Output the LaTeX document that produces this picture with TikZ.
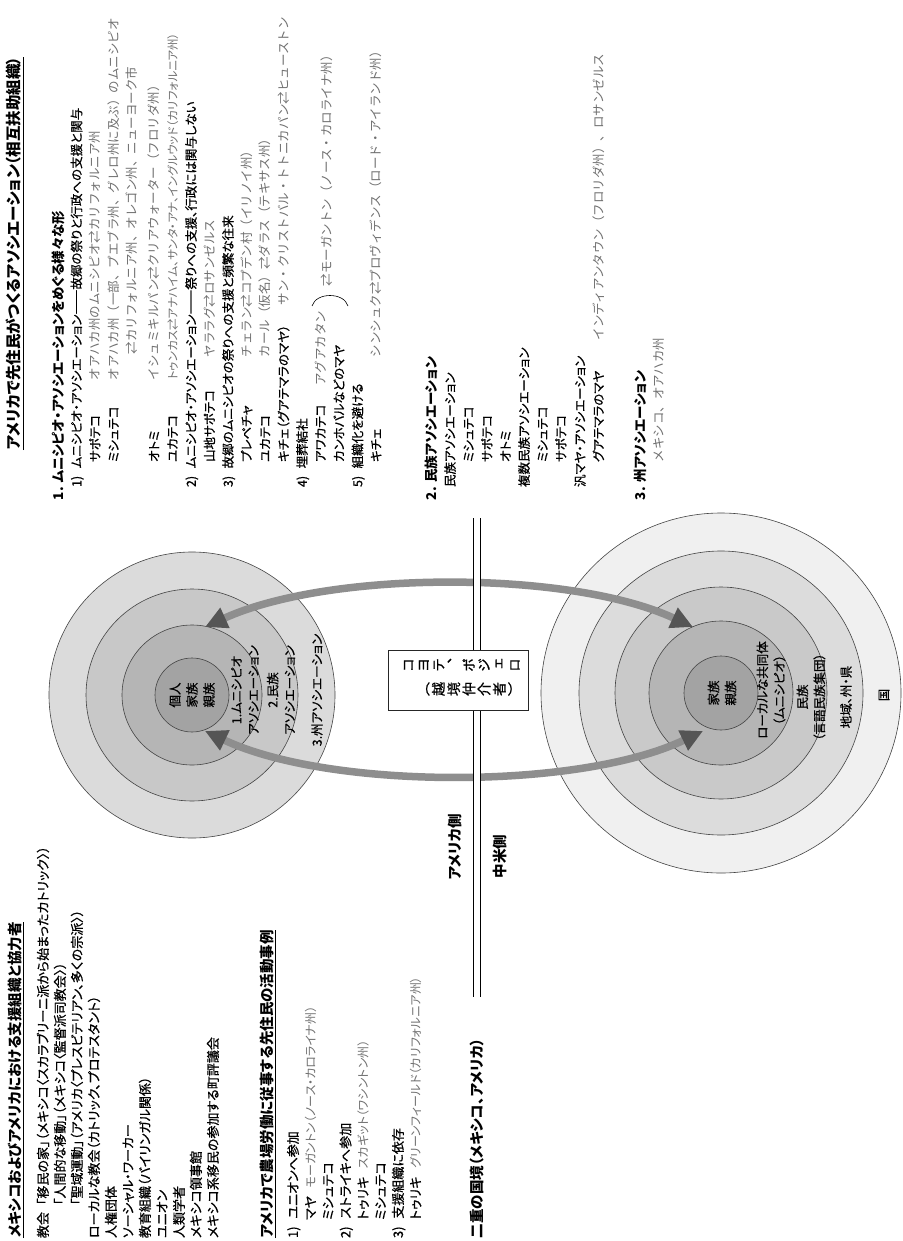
\documentclass[tikz,border=0pt]{standalone}
\usepackage{fontspec}
\setmainfont{Noto Sans CJK JP}[RawFeature=+palt]
\newfontfamily\jpm[FakeBold=0.7,RawFeature=+palt]{Noto Sans CJK JP}
\newfontfamily\jpg[RawFeature=+palt]{Noto Sans CJK JP}
\newfontfamily\jpf{Noto Sans CJK JP}
\newfontfamily\jpv[FakeBold=0.7,RawFeature=+vert]{Noto Sans CJK JP}
\usetikzlibrary{arrows.meta}
\definecolor{graytxt}{HTML}{707070}
\definecolor{ua}{HTML}{DBDBDB}
\definecolor{ub}{HTML}{C8C8C8}
\definecolor{uc}{HTML}{B5B5B5}
\definecolor{ud}{HTML}{A3A3A3}
\definecolor{la}{HTML}{F0F0F0}
\definecolor{lb}{HTML}{DCDCDC}
\definecolor{lc}{HTML}{C9C9C9}
\definecolor{ld}{HTML}{B5B5B5}
\definecolor{le}{HTML}{A3A3A3}
\definecolor{arrgray}{HTML}{8E8E8E}
\definecolor{arrhead}{HTML}{555555}
\definecolor{ringline}{HTML}{444444}
\begin{document}
\begin{tikzpicture}[x=1pt,y=1pt,
  tt/.style={rotate=90, anchor=west, inner sep=0pt, outer sep=0pt},
  ttl/.style={tt, font=\bfseries\fontsize{15.5}{18}\selectfont, text height=13.6pt, text depth=1.9pt},
  hda/.style={tt, font=\bfseries\fontsize{14.5}{17}\selectfont, text height=12.8pt, text depth=1.7pt},
  hdb/.style={tt, font=\bfseries\fontsize{13.5}{16}\selectfont, text height=11.9pt, text depth=1.6pt},
  lbl/.style={tt, font=\jpm\fontsize{12.5}{15}\selectfont, text height=11pt, text depth=1.5pt},
  body/.style={tt, font=\jpm\fontsize{13}{15}\selectfont, text height=11.4pt, text depth=1.6pt},
  gry/.style={tt, font=\jpf\fontsize{12.5}{14}\selectfont, text height=11pt, text depth=1.5pt, text=graytxt},
  gryn/.style={tt, font=\jpg\fontsize{12}{14}\selectfont, text height=10.6pt, text depth=1.4pt, text=graytxt},
  ringlbl/.style={rotate=90, align=center, inner sep=0pt, font=\jpm\fontsize{12.5}{17}\selectfont},
  disc/.style={draw=ringline, line width=0.6pt},
  arr/.style={line width=7.5pt, draw=arrgray,
    {Triangle[length=22pt,width=21pt,color=arrhead]}-{Triangle[length=22pt,width=21pt,color=arrhead]}},
  vcol/.style={rotate=90, anchor=south, align=center, inner sep=0pt, font=\jpv\fontsize{14}{15.2}\selectfont}
]
\useasboundingbox (0,0) rectangle (902,-1241);
\fill[white] (0,0) rectangle (902,-1241);

% ---------------- circles: left set ----------------
\coordinate (cu) at (192,-695);
\filldraw[disc, fill=ua] (cu) circle (143);
\filldraw[disc, fill=ub] (cu) circle (106);
\filldraw[disc, fill=uc] (cu) circle (70);
\filldraw[disc, fill=ud] (cu) circle (37);
% ---------------- circles: right set ----------------
\coordinate (cl) at (721,-693);
\filldraw[disc, fill=la] (cl) circle (180);
\filldraw[disc, fill=lb] (cl) circle (142);
\filldraw[disc, fill=lc] (cl) circle (106);
\filldraw[disc, fill=ld] (cl) circle (72);
\filldraw[disc, fill=le] (cl) circle (37);

% labels left set
\node[ringlbl] (uin) at (192,-695) {個人\\家族\\親族};
\node[ringlbl] (ur1) at (245,-690) {1.ムニシピオ\\アソシエーション};
\node[ringlbl] (ur2) at (281,-690) {2.民族\\アソシエーション};
\node[ringlbl] (ur3) at (317,-690) {3.州アソシエーション};
% labels right set
\node[ringlbl] (lin) at (722,-693) {家族\\親族};
\node[ringlbl] (lr1) at (771,-690) {ローカルな共同体\\（ムニシピオ）};
\node[ringlbl] (lr2) at (811,-697) {民族\\（言語民族集団）};
\node[ringlbl] (lr3) at (846,-697) {地域、州・県};
\node[ringlbl] (lr4) at (884,-695) {国};

% ---------------- arrows ----------------
\coordinate (ua1) at (205,-627);
\coordinate (ua2) at (693,-627);
\coordinate (la1) at (205,-731);
\coordinate (la2) at (703,-731);
\draw[arr] (ua1) .. controls (330,-570) and (570,-570) .. (ua2);
\draw[arr] (la1) .. controls (330,-790) and (580,-790) .. (la2);

% ---------------- double border ----------------
\coordinate (dlT) at (477,-518);
\coordinate (dlB) at (477,-997);
\draw[line width=1.4pt, double distance=5.6pt] (dlT) -- (dlB);
\node[draw=black!85, fill=white, line width=0.9pt, minimum width=140pt, minimum height=60pt, inner sep=0pt] (box) at (458,-680) {};
\node[vcol] (coy1) at (520,-665) {コ\\ヨ\\テ\\、\\ポ\\ジ\\ェ\\ロ};
\node[vcol] (coy2) at (520,-689) {（\\越\\境\\仲\\介\\者\\）};

\node[hda] (border) at (477,-1238) {二重の国境（メキシコ、アメリカ）};
\node[hda] (usside) at (455,-880) {アメリカ側};
\node[hda] (caside) at (500,-878) {中米側};

% ---------------- right column (sections) ----------------
\node[ttl] (title) at (14,-450) {\underline{アメリカで先住民がつくるアソシエーション（相互扶助組織）}};
\node[hdb] (s1) at (58,-500) {1. ムニシピオ・アソシエーションをめぐる様々な形};
\node[lbl] (s1a) at (76.5,-487) {1)\hspace{0.6em}ムニシピオ・アソシエーション――故郷の祭りと行政への支援と関与};
\node[lbl] (zap1) at (95,-462) {サポテコ};
\node[gry] (zap1g) at (95,-380) {オアハカ州のムニシピオ⇄カリフォルニア州};
\node[lbl] (mix1) at (113.5,-462) {ミシュテコ};
\node[gry] (mix1g) at (113.5,-380) {オアハカ州（一部、プエブラ州、グレロ州に及ぶ）のムニシピオ};
\node[gry] (mix1h) at (132,-354) {⇄カリフォルニア州、オレゴン州、ニューヨーク市};
\node[lbl] (oto1) at (154,-462) {オトミ};
\node[gry] (oto1g) at (154,-380) {イシュミキルパン⇄クリアウォーター（フロリダ州）};
\node[lbl] (yuc1) at (172.5,-462) {ユカテコ};
\node[gryn, font=\jpg\fontsize{11.5}{14}\selectfont] (yuc1g) at (172.5,-380) {トゥンカス⇄アナハイム、サンタ・アナ、イングルウッド（カリフォルニア州）};
\node[lbl] (s1b) at (191,-487) {2)\hspace{0.6em}ムニシピオ・アソシエーション――祭りへの支援、行政には関与しない};
\node[lbl] (zap2) at (209.5,-462) {山地サポテコ};
\node[gry] (zap2g) at (209.5,-357) {ヤララグ⇄ロサンゼルス};
\node[lbl] (s1c) at (228,-487) {3)\hspace{0.6em}故郷のムニシピオの祭りへの支援と頻繁な往来};
\node[lbl] (pur) at (246.5,-462) {プレペチャ};
\node[gry] (purg) at (246.5,-357) {チェラン⇄コプデン村（イリノイ州）};
\node[lbl] (yuc2) at (265,-462) {ユカテコ};
\node[gry] (yuc2g) at (265,-357) {カール（仮名）⇄ダラス（テキサス州）};
\node[lbl] (kic1) at (283.5,-462) {キチェ（グアテマラのマヤ）};
\node[gry] (kic1g) at (283.5,-305) {サン・クリストバル・トトニカパン⇄ヒューストン};
\node[lbl] (s1d) at (302,-487) {4)\hspace{0.6em}埋葬結社};
\node[lbl] (awa) at (320.5,-462) {アワカテコ};
\node[gry] (awag) at (320.5,-385) {アグアカタン};
\coordinate (brA) at (312,-306);
\coordinate (brB) at (348,-306);
\draw[line width=0.6pt] (brA) .. controls (316,-292) and (344,-292) .. (brB);
\node[gry] (awah) at (327,-286) {⇄モーガントン（ノース・カロライナ州）};
\node[lbl] (kan) at (339,-462) {カンホバルなどのマヤ};
\node[lbl] (s1e) at (357.5,-487) {5)\hspace{0.6em}組織化を避ける};
\node[lbl] (kic2) at (376,-462) {キチェ};
\node[gry] (kic2g) at (376,-357) {シンシュク⇄プロヴィデンス（ロード・アイランド州）};

\node[hdb] (s2) at (431.5,-500) {2. 民族アソシエーション};
\node[lbl] (s2a) at (450,-487) {民族アソシエーション};
\node[lbl] (s2a1) at (468.5,-462) {ミシュテコ};
\node[lbl] (s2a2) at (487,-462) {サポテコ};
\node[lbl] (s2a3) at (505.5,-462) {オトミ};
\node[lbl] (s2b) at (524,-487) {複数民族アソシエーション};
\node[lbl] (s2b1) at (542.5,-462) {ミシュテコ};
\node[lbl] (s2b2) at (561,-462) {サポテコ};
\node[lbl] (s2c) at (580,-487) {汎マヤ・アソシエーション};
\node[lbl] (gua) at (598.5,-462) {グアテマラのマヤ};
\node[gry] (guag) at (598.5,-340) {インディアンタウン（フロリダ州）、ロサンゼルス};
\node[hdb] (s3) at (640,-500) {3. 州アソシエーション};
\node[gry] (s3a) at (659,-462) {メキシコ、オアハカ州};

% ---------------- left column ----------------
\node[hda] (lh1) at (15,-1238) {\underline{メキシコおよびアメリカにおける支援組織と協力者}};
\node[body] (ch) at (43,-1238) {教会};
\node[body] (ch1) at (43,-1205) {「移民の家」（メキシコ〈スカラブリーニ派から始まったカトリック〉）};
\node[body] (ch2) at (60,-1205) {「人間的な移動」（メキシコ〈監督派司教会〉）};
\node[body] (ch3) at (77,-1205) {「聖域運動」（アメリカ〈プレスビテリアン、多くの宗派〉）};
\node[body] (lch) at (94,-1238) {ローカルな教会（カトリック、プロテスタント）};
\node[body] (hr) at (111,-1238) {人権団体};
\node[body] (sw) at (128,-1238) {ソーシャル・ワーカー};
\node[body] (edu) at (145,-1238) {教育組織（バイリンガル関係）};
\node[body] (uni) at (162,-1238) {ユニオン};
\node[body] (ant) at (179,-1238) {人類学者};
\node[body] (con) at (196,-1238) {メキシコ領事館};
\node[body] (cou) at (213,-1238) {メキシコ系移民の参加する町評議会};

\node[hda] (lh2) at (267,-1238) {\underline{アメリカで農場労働に従事する先住民の活動事例}};
\node[body] (f1) at (293,-1238) {1)\hspace{0.6em}ユニオンへ参加};
\node[body] (f1a) at (310.5,-1220) {マヤ};
\node[gryn] (f1ag) at ([yshift=8pt]f1a.east) {モーガントン（ノース・カロライナ州）};
\node[body] (f1b) at (328,-1220) {ミシュテコ};
\node[body] (f2) at (345.5,-1238) {2)\hspace{0.6em}ストライキへ参加};
\node[body] (f2a) at (363,-1220) {トゥリキ};
\node[gryn] (f2ag) at ([yshift=8pt]f2a.east) {スカギット（ワシントン州）};
\node[body] (f2b) at (380.5,-1220) {ミシュテコ};
\node[body] (f3) at (398,-1238) {3)\hspace{0.6em}支援組織に依存};
\node[body] (f3a) at (415.5,-1220) {トゥリキ};
\node[gryn] (f3ag) at ([yshift=8pt]f3a.east) {グリーンフィールド（カリフォルニア州）};
\end{tikzpicture}
\end{document}
